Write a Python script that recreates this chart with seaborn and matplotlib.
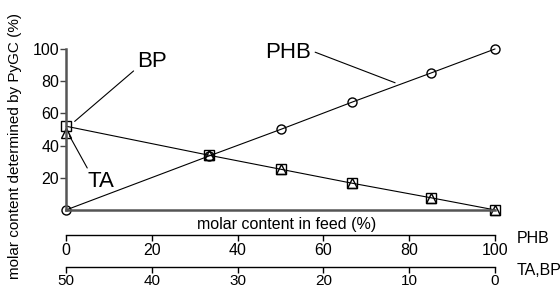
import numpy as np
import pandas as pd
import seaborn as sns
import matplotlib.pyplot as plt

# values
feed_phb = [0, 33.3, 50, 66.7, 85, 100]
phb_found = [0, 33.5, 50, 67, 85, 100]
bp_found = [52, 34, 25.3, 16.6, 7.6, 0]
ta_found = [48, 34, 25.3, 16.6, 7.6, 0]
phb_ticks = [0, 20, 40, 60, 80, 100]
tabp_ticks = [50, 40, 30, 20, 10, 0]

df = pd.DataFrame({"feed": feed_phb, "PHB": phb_found, "BP": bp_found, "TA": ta_found})

sns.set_style("white")
plt.rcParams["font.family"] = ["Liberation Sans", "DejaVu Sans"]
plt.rcParams["text.color"] = "black"
plt.rcParams["axes.labelcolor"] = "black"
plt.rcParams["xtick.color"] = "black"
plt.rcParams["ytick.color"] = "black"

fs = 11.5
fig = plt.figure(figsize=(5.6, 2.88), dpi=100)
ax = fig.add_axes([0.118, 0.271, 0.766, 0.559])

mk = dict(color="black", linewidth=0.8, markerfacecolor="none",
          markeredgecolor="black", markeredgewidth=1.0, clip_on=False)
sns.lineplot(data=df, x="feed", y="PHB", marker="o", markersize=6.5, ax=ax, **mk)
sns.lineplot(data=df, x="feed", y="TA", marker="^", markersize=7, ax=ax,
             linestyle="none", **mk)
sns.lineplot(data=df, x="feed", y="BP", marker="s", markersize=7, ax=ax, **mk)

ax.set_xlim(0, 100)
ax.set_ylim(0, 100)
ax.set_yticks([20, 40, 60, 80, 100])
ax.set_xticks([])
ax.set_xlabel("")
ax.set_ylabel("molar content determined by PyGC (%)", fontsize=11)
ax.yaxis.set_label_coords(-0.103, 0.40)
ax.tick_params(axis="y", direction="out", length=4, width=1, color="#444444",
               labelsize=fs, pad=1, left=True)
for side in ["top", "right"]:
    ax.spines[side].set_visible(False)
for side in ["left", "bottom"]:
    ax.spines[side].set_color("#555555")
    ax.spines[side].set_linewidth(1.8)
ax.patch.set_alpha(0)

ax.text(0.515, -0.09, "molar content in feed (%)", transform=ax.transAxes,
        ha="center", va="center", fontsize=fs)

# two feed composition scales under the plot
sec1 = ax.secondary_xaxis(-0.155)
sec1.set_xticks(phb_ticks)
sec1.tick_params(labelsize=fs, pad=2)
sec2 = ax.secondary_xaxis(-0.355, functions=(lambda x: (100 - x) / 2, lambda t: 100 - 2 * t))
sec2.set_xticks(tabp_ticks)
sec2.tick_params(labelsize=11, pad=1)
for s in (sec1, sec2):
    s.tick_params(direction="out", length=4, width=1, bottom=True)
    s.spines["bottom"].set_linewidth(1.0)
    s.spines["bottom"].set_color("black")
ax.text(1.05, -0.175, "PHB", transform=ax.transAxes, ha="left", va="center", fontsize=fs)
ax.text(1.05, -0.375, "TA,BP", transform=ax.transAxes, ha="left", va="center", fontsize=fs)

# curve labels with leader lines
ax.annotate("BP", xy=(2, 55), xytext=(16.5, 92), fontsize=16, ha="left", va="center",
            arrowprops=dict(arrowstyle="-", color="black", lw=0.8, shrinkA=0, shrinkB=0,
                            relpos=(0, 0.2)))
ax.annotate("TA", xy=(0.8, 46), xytext=(5, 17.5), fontsize=16, ha="left", va="center",
            arrowprops=dict(arrowstyle="-", color="black", lw=0.8, shrinkA=0, shrinkB=0,
                            relpos=(0.1, 0.9)))
ax.annotate("PHB", xy=(76.7, 79), xytext=(46.3, 98), fontsize=16, ha="left", va="center",
            arrowprops=dict(arrowstyle="-", color="black", lw=0.8, shrinkA=0, shrinkB=0,
                            relpos=(1.1, 0.5)))

fig.savefig("out.png", dpi=100)
